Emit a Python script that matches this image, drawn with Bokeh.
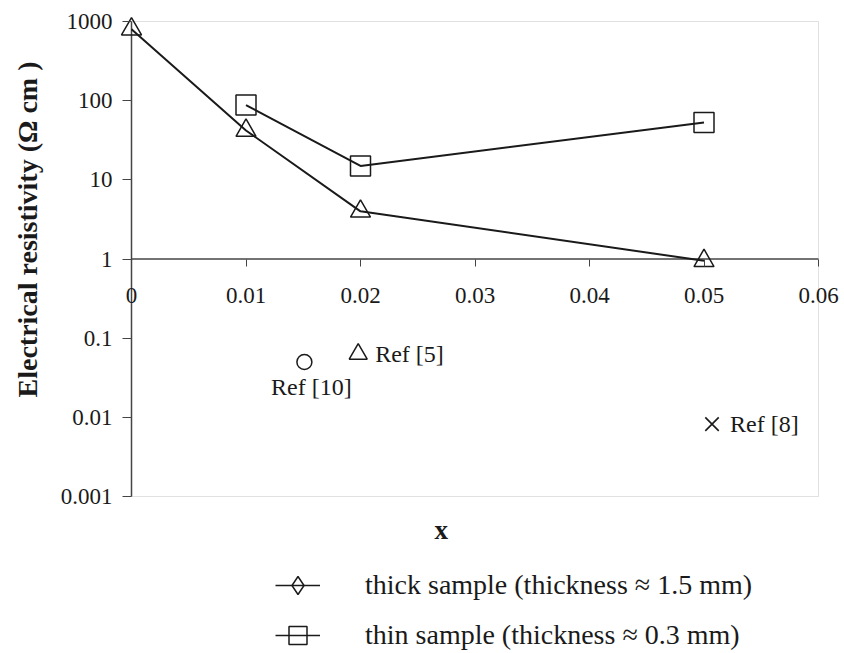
from bokeh.plotting import figure
from bokeh.layouts import column
from bokeh.models import (FixedTicker, Legend, LegendItem, Title, BoxAnnotation,
                          CustomJSTickFormatter)
from bokeh.core.properties import value
from bokeh.embed import file_html
from bokeh.resources import INLINE
import math

# ---- data ----
x_thick = [0.0, 0.01, 0.02, 0.05]
y_thick = [800, 42, 4.0, 0.95]
x_thin = [0.01, 0.02, 0.05]
y_thin = [88, 15, 53]

ref10_x, ref10_y = [0.0151], [0.050]
ref5_x, ref5_y = [0.0198], [0.063]
ref8_x, ref8_y = [0.0507], [0.0082]
ref_labels = ["Ref [10]", "Ref [5]", "Ref [8]"]

x_ticks = [0.0, 0.01, 0.02, 0.03, 0.04, 0.05, 0.06]
x_tick_labels = ["0", "0.01", "0.02", "0.03", "0.04", "0.05", "0.06"]
y_ticks = [0.001, 0.01, 0.1, 1, 10, 100, 1000]
y_tick_labels = ["0.001", "0.01", "0.1", "1", "10", "100", "1000"]
x_axis_cross = 1      # x axis crosses at resistivity = 1
y_axis_cross = 0.0    # y axis crosses at x = 0

legend_labels = ["thick sample (thickness \u2248 1.5 mm)",
                 "thin sample (thickness \u2248 0.3 mm)"]
y_title = "Electrical resistivity (\u03a9 cm )"
x_title = "x"

FONT = "Liberation Serif"
INK = "#1a1a1a"
AX = "#444444"

# ---- layout (pixels) ----
W, H_TOP, H_LEG = 844, 550, 103
FR_L, FR_R, FR_T, FR_B = 45, 844, 4, 512       # drawing frame
BOX_L, BOX_R, BOX_T, BOX_B = 131, 818, 21, 496  # visible plot box

xmin, xmax = x_ticks[0], x_ticks[-1]
dx = (xmax - xmin) / (BOX_R - BOX_L)
x_range = (xmin - (BOX_L - FR_L) * dx, xmax + (FR_R - BOX_R) * dx)
lymin, lymax = math.log10(y_ticks[0]), math.log10(y_ticks[-1])
dy = (lymax - lymin) / (BOX_B - BOX_T)
y_range = (10 ** (lymin - (FR_B - BOX_B) * dy), 10 ** (lymax + (BOX_T - FR_T) * dy))

p = figure(width=W, height=H_TOP, y_axis_type="log",
           x_range=x_range, y_range=y_range,
           output_backend="svg", toolbar_location=None,
           min_border_left=FR_L, min_border_right=W - FR_R,
           min_border_top=FR_T, min_border_bottom=H_TOP - FR_B)
p.xgrid.visible = False
p.ygrid.visible = False
p.outline_line_color = None
p.background_fill_color = "white"

# plot box border
p.add_layout(BoxAnnotation(left=xmin, right=xmax, bottom=y_ticks[0], top=y_ticks[-1],
                           fill_alpha=0, line_color="#9a9a9a", line_width=1,
                           level="underlay"))

near_js = """
let best = 0;
for (let i = 0; i < tv.length; i++) {
  if (Math.abs(f(tv[i]) - f(tick)) < Math.abs(f(tv[best]) - f(tick))) best = i;
}
return tl[best];
"""

# y axis at x = 0
ya = p.yaxis[0]
ya.fixed_location = y_axis_cross
ya.ticker = FixedTicker(ticks=y_ticks, minor_ticks=[])
ya.formatter = CustomJSTickFormatter(args=dict(tv=y_ticks, tl=y_tick_labels),
                                     code="const f = (v) => Math.log10(v);" + near_js)
ya.major_label_text_font = FONT
ya.major_label_text_font_size = "23px"
ya.major_label_text_color = INK
ya.major_tick_out = 9
ya.major_tick_in = 0
ya.minor_tick_line_color = None
ya.axis_line_color = None
ya.major_tick_line_color = AX
ya.major_label_standoff = 10

# x axis at y = 1
xa = p.xaxis[0]
xa.fixed_location = x_axis_cross
xa.ticker = FixedTicker(ticks=x_ticks, minor_ticks=[])
xa.formatter = CustomJSTickFormatter(args=dict(tv=x_ticks, tl=x_tick_labels),
                                     code="const f = (v) => v;" + near_js)
xa.major_label_text_font = FONT
xa.major_label_text_font_size = "23px"
xa.major_label_text_color = INK
xa.major_tick_out = 7
xa.major_tick_in = 0
xa.minor_tick_line_color = None
xa.axis_line_color = None
xa.major_tick_line_color = AX
xa.major_label_standoff = 22

# axis lines limited to the plot box
p.segment(x0=[y_axis_cross, xmin], y0=[y_ticks[0], x_axis_cross],
          x1=[y_axis_cross, xmax], y1=[y_ticks[-1], x_axis_cross],
          line_color=AX, line_width=1.5)

# titles
p.add_layout(Title(text=y_title, align="left", offset=FR_B - 397, text_font=FONT,
                   text_font_size="28px", text_font_style="bold",
                   text_color=INK, standoff=6), "left")
p.add_layout(Title(text=x_title, align="left", offset=433 - FR_L + 1, text_font=FONT,
                   text_font_size="27px", text_font_style="bold",
                   text_color=INK, standoff=0), "below")

# series
p.line(x_thick, y_thick, line_color=INK, line_width=2)
p.scatter(x_thick, y_thick, marker="triangle", size=20,
          fill_color=None, line_color=INK, line_width=1.5)
p.line(x_thin, y_thin, line_color=INK, line_width=2)
p.scatter(x_thin, y_thin, marker="square", size=20,
          fill_color=None, line_color=INK, line_width=1.5)

# reference points
p.scatter(ref10_x, ref10_y, marker="circle", size=15, fill_color=None,
          line_color=INK, line_width=1.5)
p.scatter(ref5_x, ref5_y, marker="triangle", size=18, fill_color=None,
          line_color=INK, line_width=1.5)
p.scatter(ref8_x, ref8_y, marker="x", size=19, line_color=INK, line_width=1.6)

txt = dict(text_font=value(FONT), text_font_size="24px", text_color=INK,
           text_baseline="middle")
p.text(ref10_x, ref10_y, text=[ref_labels[0]], text_align="center",
       x_offset=7, y_offset=25, **txt)
p.text(ref5_x, ref5_y, text=[ref_labels[1]], text_align="left",
       x_offset=17, y_offset=0, **txt)
p.text(ref8_x, ref8_y, text=[ref_labels[2]], text_align="left",
       x_offset=18, y_offset=0, **txt)

# ---- legend figure below (frame aligns with the plot's frame) ----
q = figure(width=W, height=H_LEG, x_range=(0, 1), y_range=(0, 1),
           output_backend="svg", toolbar_location=None,
           x_axis_location=None, y_axis_location=None,
           min_border=0, outline_line_color=None)
q.xgrid.visible = False
q.ygrid.visible = False

off = [-2, -1]  # legend-only glyphs kept outside the visible range
lg_thick_line = q.line(off, off, line_color=INK, line_width=1.5)
lg_thick_pt = q.scatter(off, off, marker="diamond", size=24, fill_color=None,
                        line_color=INK, line_width=1.5)
lg_thin_line = q.line(off, off, line_color=INK, line_width=1.5)
lg_thin_pt = q.scatter(off, off, marker="square", size=15, fill_color=None,
                       line_color=INK, line_width=1.5)

legend = Legend(items=[
    LegendItem(label=legend_labels[0], renderers=[lg_thick_line, lg_thick_pt]),
    LegendItem(label=legend_labels[1], renderers=[lg_thin_line, lg_thin_pt]),
], orientation="vertical", location=(275 - FR_L, -5),
    label_text_font=FONT, label_text_font_size="28px", label_text_color=INK,
    glyph_width=45, glyph_height=46, label_height=46, label_standoff=45,
    spacing=4, padding=0, margin=0, border_line_color=None,
    background_fill_alpha=0)
q.add_layout(legend)

open("out.html", "w").write(file_html(column(p, q, spacing=0), INLINE))
